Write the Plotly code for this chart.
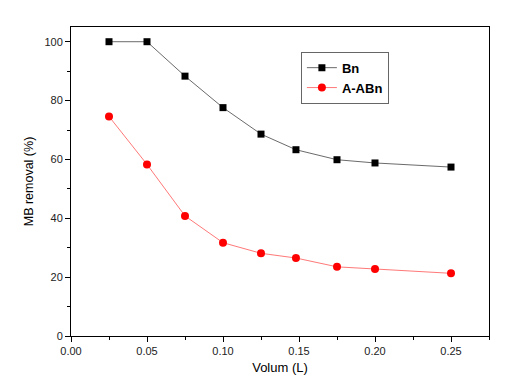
import plotly.graph_objects as go

volume = [0.025, 0.05, 0.075, 0.1, 0.125, 0.148, 0.175, 0.2, 0.25]
bn = [100, 100, 88.3, 77.6, 68.6, 63.3, 59.9, 58.8, 57.4]
aabn = [74.6, 58.3, 40.8, 31.7, 28.1, 26.5, 23.5, 22.8, 21.3]

fig = go.Figure()
fig.add_trace(go.Scatter(x=volume, y=bn, name="Bn", mode="lines+markers",
                         line=dict(color="#444444", width=0.8),
                         marker=dict(symbol="square", size=7, color="black")))
fig.add_trace(go.Scatter(x=volume, y=aabn, name="A-ABn", mode="lines+markers",
                         line=dict(color="#ff5555", width=0.8),
                         marker=dict(symbol="circle", size=8, color="#ff0000")))

axis_common = dict(showline=True, linecolor="black", linewidth=1, mirror=True,
                   showgrid=False, zeroline=False, ticks="outside", ticklen=5,
                   tickcolor="black", automargin=False,
                   tickfont=dict(size=11, color="#222"))

# page body has an 8px margin; size the figure to fit the 520x378 window
fig.update_layout(
    width=512, height=370,
    margin=dict(l=63, r=31, t=19, b=42),
    paper_bgcolor="white", plot_bgcolor="white",
    font=dict(family="Liberation Sans, Arial, sans-serif", color="black"),
    showlegend=True,
    legend=dict(x=0.55, y=0.92, xanchor="left", yanchor="top",
                bordercolor="#666", borderwidth=1, bgcolor="white",
                font=dict(size=13, family="Liberation Sans, Arial", weight="bold"),
                tracegroupgap=0, itemwidth=30),
    xaxis=dict(range=[0, 0.275], tickvals=[0, 0.05, 0.1, 0.15, 0.2, 0.25],
               ticktext=["0.00", "0.05", "0.10", "0.15", "0.20", "0.25"],
               minor=dict(ticks="outside", ticklen=3, tickcolor="black", dtick=0.025, tick0=0),
               title=dict(text="Volum (L)", font=dict(size=13), standoff=6),
               **axis_common),
    yaxis=dict(range=[0, 105], tickvals=[0, 20, 40, 60, 80, 100],
               minor=dict(ticks="outside", ticklen=3, tickcolor="black", dtick=10, tick0=0),
               title=dict(text="MB removal (%)", font=dict(size=12.5), standoff=8),
               **axis_common),
)

fig.write_html("out.html")
